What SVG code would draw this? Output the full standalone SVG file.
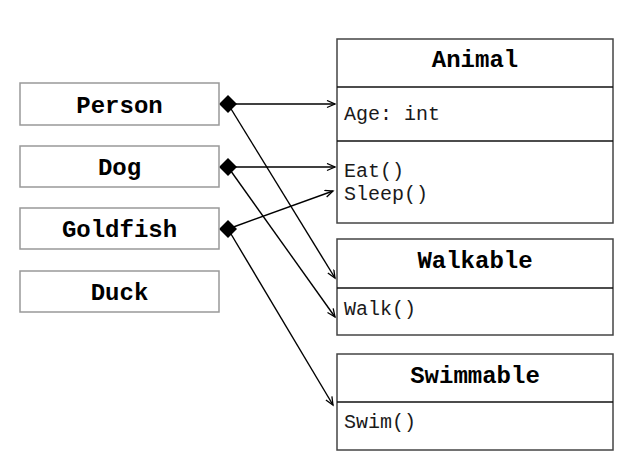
<svg xmlns="http://www.w3.org/2000/svg" width="642" height="459" viewBox="0 0 642 459">
  <style>
    .small { fill: #fff; stroke: #999; stroke-width: 1.5; }
    .cls { fill: #fff; stroke: #444; stroke-width: 1.5; }
    .div { stroke: #111; stroke-width: 1.3; }
    .title { font-family: "Liberation Mono", "Courier New", monospace; font-weight: bold; font-size: 24px; fill: #000; text-anchor: middle; }
    .member { font-family: "Liberation Mono", "Courier New", monospace; font-size: 20px; fill: #1a1a1a; }
    .link { stroke: #000; stroke-width: 1.4; fill: none; marker-end: url(#open); }
    .diamond { fill: #000; }
  </style>
  <defs>
    <marker id="open" markerUnits="userSpaceOnUse" markerWidth="12" markerHeight="12" refX="9" refY="4" orient="auto">
      <path d="M1,0.5 L9,4 L1,7.5" fill="none" stroke="#000" stroke-width="1.3"/>
    </marker>
  </defs>
  <rect width="642" height="459" fill="#fff"/>

  <!-- connectors: composition diamonds with open arrowheads -->
  <g id="connectors">
    <line class="link" x1="236" y1="104" x2="335" y2="104"/>
    <line class="link" x1="228" y1="104" x2="335" y2="278"/>
    <line class="link" x1="236" y1="167" x2="335" y2="167"/>
    <line class="link" x1="228" y1="167" x2="335" y2="317"/>
    <line class="link" x1="228" y1="229" x2="333" y2="191"/>
    <line class="link" x1="228" y1="229" x2="333" y2="405"/>
    <polygon class="diamond" points="219,104 228,95 237,104 228,113"/>
    <polygon class="diamond" points="219,167 228,158 237,167 228,176"/>
    <polygon class="diamond" points="219,229 228,220 237,229 228,238"/>
  </g>

  <!-- left classes -->
  <g id="person">
    <rect class="small" x="20" y="83" width="199" height="42"/>
    <text class="title" x="119.5" y="113">Person</text>
  </g>
  <g id="dog">
    <rect class="small" x="20" y="146" width="199" height="41"/>
    <text class="title" x="119.5" y="175">Dog</text>
  </g>
  <g id="goldfish">
    <rect class="small" x="20" y="208" width="199" height="41"/>
    <text class="title" x="119.5" y="237">Goldfish</text>
  </g>
  <g id="duck">
    <rect class="small" x="20" y="271" width="199" height="41"/>
    <text class="title" x="119.5" y="300">Duck</text>
  </g>

  <!-- right classes -->
  <g id="animal">
    <rect class="cls" x="337" y="39" width="276" height="184"/>
    <line class="div" x1="337" y1="87" x2="613" y2="87"/>
    <line class="div" x1="337" y1="141" x2="613" y2="141"/>
    <text class="title" x="475" y="67">Animal</text>
    <text class="member" x="344" y="120">Age: int</text>
    <text class="member" x="344" y="177">Eat()</text>
    <text class="member" x="344" y="200">Sleep()</text>
  </g>
  <g id="walkable">
    <rect class="cls" x="337" y="239" width="276" height="96"/>
    <line class="div" x1="337" y1="288" x2="613" y2="288"/>
    <text class="title" x="475" y="268">Walkable</text>
    <text class="member" x="344" y="315">Walk()</text>
  </g>
  <g id="swimmable">
    <rect class="cls" x="337" y="354" width="276" height="96"/>
    <line class="div" x1="337" y1="402" x2="613" y2="402"/>
    <text class="title" x="475" y="383">Swimmable</text>
    <text class="member" x="344" y="428">Swim()</text>
  </g>
</svg>
